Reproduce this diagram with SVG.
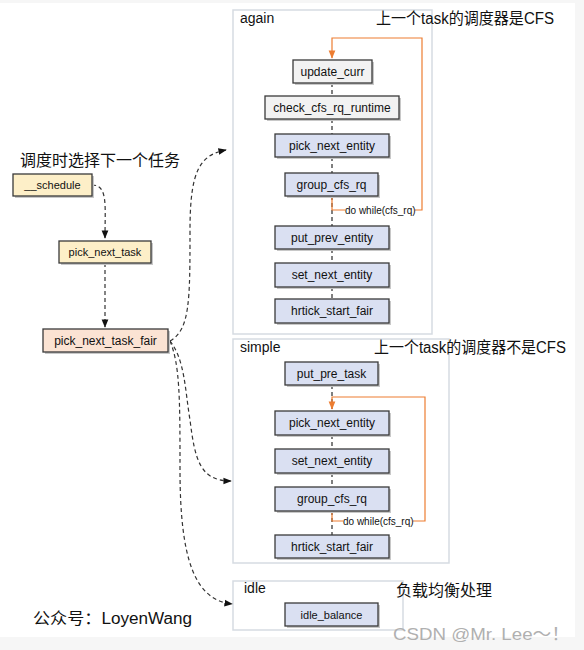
<svg xmlns="http://www.w3.org/2000/svg" width="584" height="650" viewBox="0 0 584 650">
<defs>
<style>
text{font-family:"Liberation Sans","Noto Sans CJK SC",sans-serif;fill:#111}
.n{font-size:12px;text-anchor:middle}
.cn{font-size:16px}
.box{stroke:#3a3a3a;stroke-width:1.3}
.sh{fill:#c8c8c8}
.grey{fill:#f2f2f2}
.blue{fill:#dae0f2}
.yel{fill:#fdefc8}
.peach{fill:#fbe3d3}
.cont{fill:#fff;stroke:#d6dbe2;stroke-width:1.5}
.dash{fill:none;stroke:#333;stroke-width:1.2;stroke-dasharray:4 3}
.vdash{fill:none;stroke:#555;stroke-width:1.5;stroke-dasharray:4 3}
.loop{fill:none;stroke:#ed7d31;stroke-width:1.2}
.dw{font-size:10px}
</style>
<marker id="ah" viewBox="0 0 10 10" refX="9" refY="5" markerWidth="7" markerHeight="7" orient="auto"><path d="M0,1 L10,5 L0,9 z" fill="#111"/></marker>
<marker id="oh" viewBox="0 0 10 10" refX="9" refY="5" markerWidth="7" markerHeight="7" orient="auto"><path d="M0,1 L10,5 L0,9 z" fill="#ed7d31"/></marker>
</defs>
<rect x="0" y="0" width="584" height="650" fill="#f6f6f6"/>
<rect x="0" y="3" width="575" height="634" fill="#fff"/>

<g id="container-again">
<rect class="cont" x="233" y="10" width="199" height="324"/>
<text x="240" y="23" style="font-size:14px">again</text>
<text class="cn" x="376" y="24" textLength="178" lengthAdjust="spacingAndGlyphs">上一个task的调度器是CFS</text>
</g>
<g id="container-simple">
<rect class="cont" x="233" y="339" width="216" height="224"/>
<text x="240" y="352" style="font-size:14px">simple</text>
<text class="cn" x="374" y="353" textLength="192" lengthAdjust="spacingAndGlyphs">上一个task的调度器不是CFS</text>
</g>
<g id="container-idle">
<rect class="cont" x="233" y="581" width="170" height="49"/>
<text x="244" y="593" style="font-size:14px">idle</text>
<text class="cn" x="396" y="596">负载均衡处理</text>
</g>

<text class="cn" x="20" y="166">调度时选择下一个任务</text>
<text class="cn" x="33" y="624" textLength="159" lengthAdjust="spacingAndGlyphs">公众号：LoyenWang</text>

<g id="connectors">
<path class="dash" d="M92,185 C108,185 105,205 105,238" marker-end="url(#ah)"/>
<path class="dash" d="M105,263 L105,327" marker-end="url(#ah)"/>
<path class="dash" d="M170,341 C190,330 190,300 190,230 C190,170 200,155 226,150" marker-end="url(#ah)"/>
<path class="dash" d="M170,341 C185,360 185,390 190,420 C195,460 200,481 231,481" marker-end="url(#ah)"/>
<path class="dash" d="M170,341 C180,365 180,400 180,470 C180,560 195,600 232,604" marker-end="url(#ah)"/>
<path class="vdash" d="M332,83 V96 M332,119 V134 M332,157 V173 M332,196 V226 M332,249 V263 M332,287 V299"/>
<path class="vdash" d="M332,385 V409 M332,435 V449 M332,473 V487 M332,511 V535"/>
<path class="loop" d="M332,196 V210 H345 M415,210 H422 V38 H332 V58" marker-end="url(#oh)"/>
<text class="dw" x="345" y="214">do while(cfs_rq)</text>
<path class="loop" d="M332,511 V521 H343 M413,521 H425 V397 H332 V409" marker-end="url(#oh)"/>
<text class="dw" x="343" y="525">do while(cfs_rq)</text>
</g>

<g id="schedule"><rect class="sh" x="15" y="176" width="79" height="22"/><rect class="box yel" x="13" y="174" width="79" height="22"/><text class="n" x="52.5" y="189" style="font-size:11px">__schedule</text></g>
<g id="pick_next_task"><rect class="sh" x="61" y="243" width="92" height="22"/><rect class="box yel" x="59" y="241" width="92" height="22"/><text class="n" x="105" y="256" style="font-size:11px">pick_next_task</text></g>
<g id="pick_next_task_fair"><rect class="sh" x="45" y="331" width="125" height="23"/><rect class="box peach" x="43" y="329" width="125" height="23"/><text class="n" x="105.5" y="345">pick_next_task_fair</text></g>

<g id="update_curr"><rect class="sh" x="295" y="62" width="79" height="23"/><rect class="box grey" x="293" y="60" width="79" height="23"/><text class="n" x="332.5" y="76">update_curr</text></g>
<g id="check_cfs_rq_runtime"><rect class="sh" x="267" y="98" width="134" height="23"/><rect class="box grey" x="265" y="96" width="134" height="23"/><text class="n" x="332" y="112">check_cfs_rq_runtime</text></g>
<g id="a_pick_next_entity"><rect class="sh" x="277" y="136" width="114" height="23"/><rect class="box blue" x="275" y="134" width="114" height="23"/><text class="n" x="332" y="150">pick_next_entity</text></g>
<g id="a_group_cfs_rq"><rect class="sh" x="287" y="175" width="93" height="23"/><rect class="box blue" x="285" y="173" width="93" height="23"/><text class="n" x="331.5" y="189">group_cfs_rq</text></g>
<g id="put_prev_entity"><rect class="sh" x="277" y="228" width="114" height="23"/><rect class="box blue" x="275" y="226" width="114" height="23"/><text class="n" x="332" y="242">put_prev_entity</text></g>
<g id="a_set_next_entity"><rect class="sh" x="277" y="265" width="114" height="24"/><rect class="box blue" x="275" y="263" width="114" height="24"/><text class="n" x="332" y="279">set_next_entity</text></g>
<g id="a_hrtick_start_fair"><rect class="sh" x="277" y="301" width="114" height="24"/><rect class="box blue" x="275" y="299" width="114" height="24"/><text class="n" x="332" y="315">hrtick_start_fair</text></g>

<g id="put_pre_task"><rect class="sh" x="287" y="364" width="93" height="23"/><rect class="box blue" x="285" y="362" width="93" height="23"/><text class="n" x="331.5" y="378">put_pre_task</text></g>
<g id="s_pick_next_entity"><rect class="sh" x="277" y="413" width="114" height="24"/><rect class="box blue" x="275" y="411" width="114" height="24"/><text class="n" x="332" y="427">pick_next_entity</text></g>
<g id="s_set_next_entity"><rect class="sh" x="277" y="451" width="114" height="24"/><rect class="box blue" x="275" y="449" width="114" height="24"/><text class="n" x="332" y="465">set_next_entity</text></g>
<g id="s_group_cfs_rq"><rect class="sh" x="277" y="489" width="114" height="24"/><rect class="box blue" x="275" y="487" width="114" height="24"/><text class="n" x="332" y="503">group_cfs_rq</text></g>
<g id="s_hrtick_start_fair"><rect class="sh" x="277" y="537" width="114" height="23"/><rect class="box blue" x="275" y="535" width="114" height="23"/><text class="n" x="332" y="551">hrtick_start_fair</text></g>

<g id="idle_balance"><rect class="sh" x="287" y="605" width="93" height="23"/><rect class="box blue" x="285" y="603" width="93" height="23"/><text class="n" x="331.5" y="619" style="font-size:11px">idle_balance</text></g>

<text x="393" y="640" style="font-size:17px;fill:#b0b0b0" textLength="177" lengthAdjust="spacingAndGlyphs">CSDN @Mr.  Lee～！</text>
</svg>
